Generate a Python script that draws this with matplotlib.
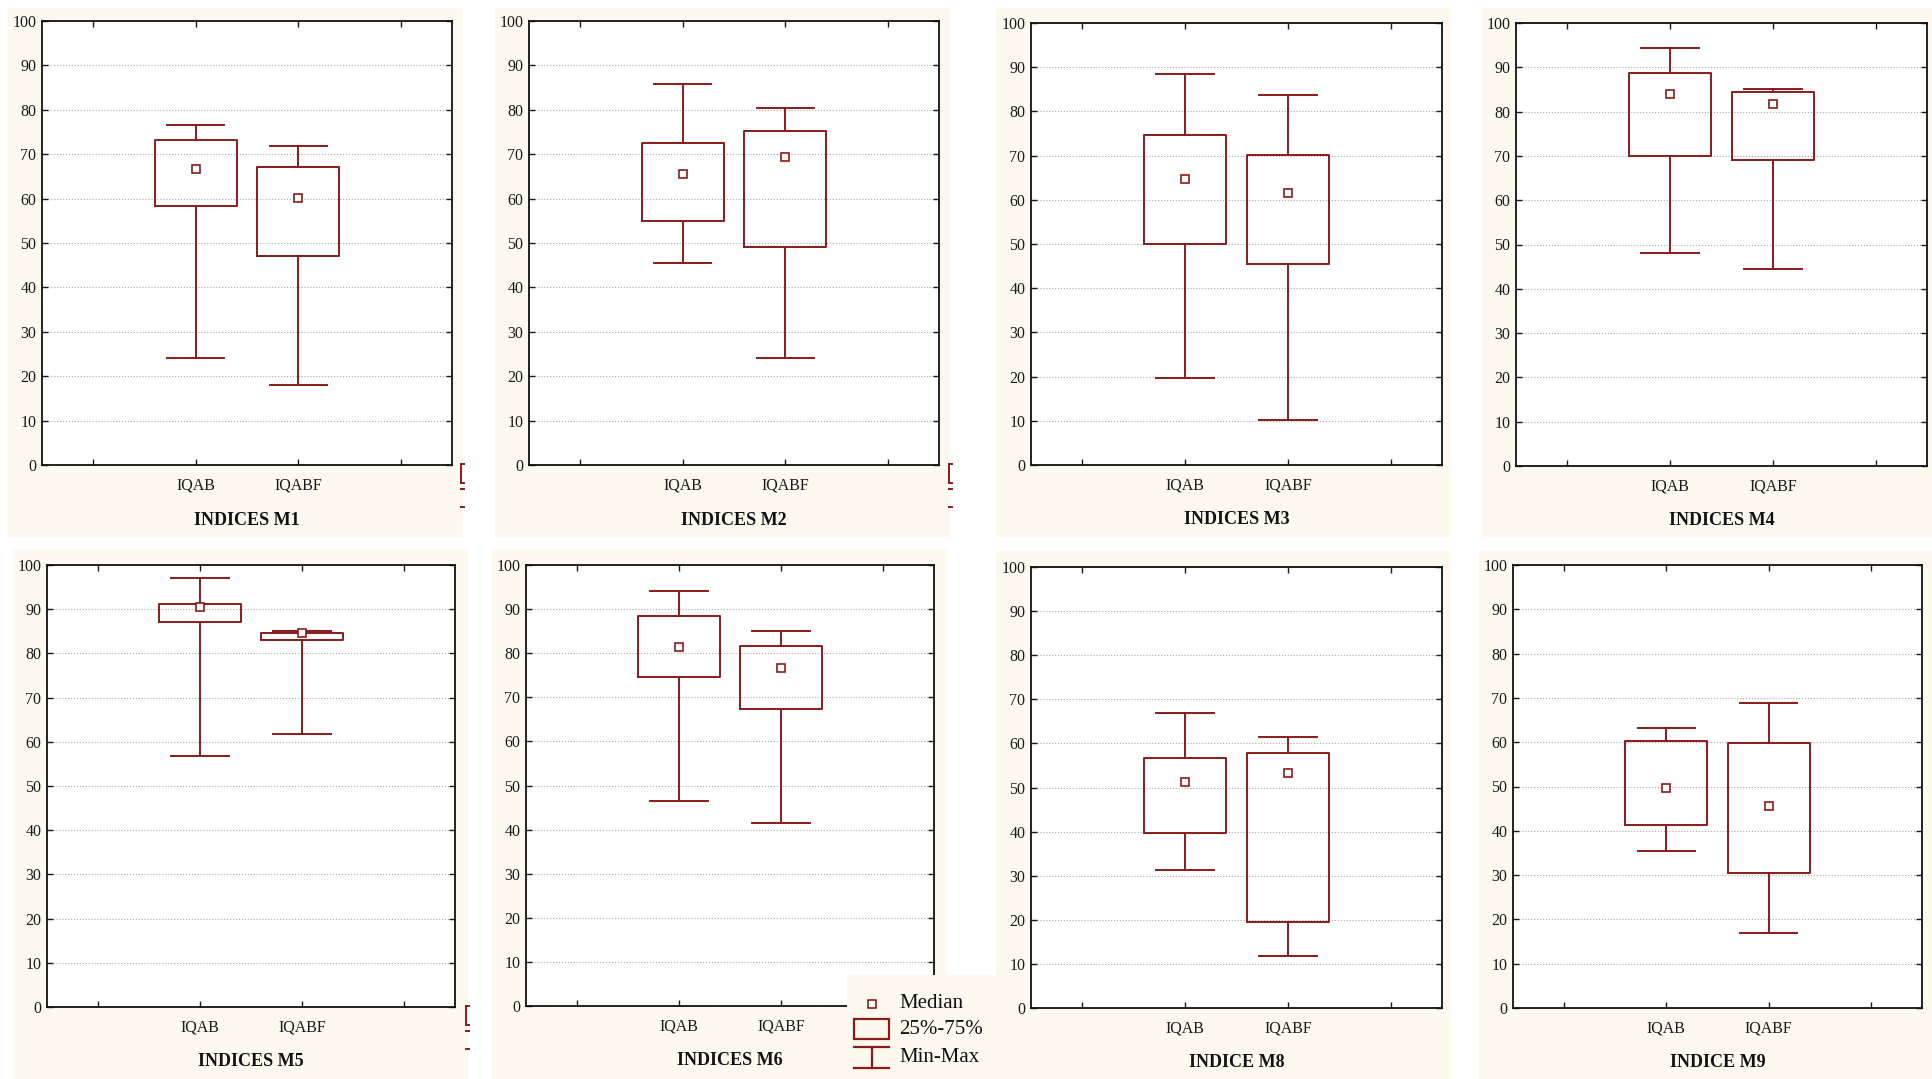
import matplotlib
matplotlib.use("Agg")
import matplotlib.pyplot as plt
from matplotlib.patches import Rectangle
from matplotlib.lines import Line2D

plt.rcParams['font.family'] = ['Liberation Serif', 'DejaVu Serif']

W, H = 1932, 1079
RED = '#8b1a1a'
CREAM = '#fdf9ee'

#======================================================================================================================
# data: min, q1, median, q3, max for IQAB / IQABF

titles = ["INDICES M1", "INDICES M2", "INDICES M3", "INDICES M4",
          "INDICES M5", "INDICES M6", "INDICE M8", "INDICE M9"]
groups = ["IQAB", "IQABF"]

iqab_min = [24.0, 45.6, 19.7, 48.1, 56.8, 46.5, 31.4, 35.4]
iqab_q1  = [58.3, 54.9, 49.9, 70.0, 87.1, 74.7, 39.7, 41.3]
iqab_med = [66.6, 65.5, 64.7, 83.9, 90.4, 81.3, 51.3, 49.6]
iqab_q3  = [73.2, 72.6, 74.7, 88.8, 91.2, 88.5, 56.7, 60.3]
iqab_max = [76.6, 85.8, 88.5, 94.3, 97.0, 94.2, 67.0, 63.3]

iqabf_min = [18.1, 24.0, 10.2, 44.4, 61.8, 41.4, 11.9, 17.0]
iqabf_q1  = [47.1, 49.1, 45.4, 69.1, 83.0, 67.3, 19.5, 30.4]
iqabf_med = [60.1, 69.3, 61.6, 81.8, 84.7, 76.7, 53.3, 45.5]
iqabf_q3  = [67.1, 75.3, 70.2, 84.4, 84.6, 81.6, 57.9, 59.9]
iqabf_max = [71.9, 80.4, 83.6, 85.1, 85.0, 85.0, 61.4, 68.8]

#======================================================================================================================
# layout in pixels: axes (x0, y0, x1, y1) and cream panel background

axes_px = [(42, 21, 452, 465), (529, 21, 939, 465), (1031, 23, 1442, 465), (1516, 23, 1927, 466),
           (47, 565, 455, 1007), (526, 565, 934, 1006), (1031, 567, 1442, 1008), (1513, 565, 1922, 1008)]
panel_px = [(8, 8, 463, 537), (495, 8, 950, 537), (996, 8, 1451, 537), (1482, 8, 1932, 537),
            (13, 550, 468, 1079), (492, 550, 947, 1079), (996, 551, 1451, 1079), (1479, 551, 1932, 1079)]

# cut-off legend leftovers at the right edge of some panels (x, top of box)
stubs_px = [(461, 464), (949, 464), (466, 1006)]


def figRect(x0, y0, x1, y1):
    return [x0 / W, 1 - y1 / H, (x1 - x0) / W, (y1 - y0) / H]


def makeStats(i):
    stats = []
    for lo, q1, med, q3, hi in [(iqab_min[i], iqab_q1[i], iqab_med[i], iqab_q3[i], iqab_max[i]),
                                (iqabf_min[i], iqabf_q1[i], iqabf_med[i], iqabf_q3[i], iqabf_max[i])]:
        stats.append(dict(whislo=lo, q1=q1, med=med, q3=q3, whishi=hi, mean=med, fliers=[]))
    return stats


def drawPanel(fig, i):
    x0, y0, x1, y1 = panel_px[i]
    fig.add_artist(Rectangle((x0 / W, 1 - y1 / H), (x1 - x0) / W, (y1 - y0) / H,
                             transform=fig.transFigure, facecolor=CREAM, edgecolor='none', zorder=-5))

    ax = fig.add_axes(figRect(*axes_px[i]))
    ax.set_facecolor('white')
    line = dict(color=RED, linewidth=1.4)
    ax.bxp(makeStats(i), positions=[1, 2], widths=0.8, capwidths=0.56, showmeans=True,
           boxprops=line, whiskerprops=line, capprops=line,
           medianprops=dict(linewidth=0),
           meanprops=dict(marker='s', markersize=5.5, markerfacecolor='white',
                          markeredgecolor=RED, markeredgewidth=1.2),
           manage_ticks=False)

    ax.set_xlim(-0.5, 3.5)
    ax.set_ylim(0, 100)
    ax.set_xticks([0, 1, 2, 3])
    ax.set_xticklabels([''] + groups + [''])
    ax.set_yticks(range(0, 101, 10))
    ax.tick_params(direction='in', length=4, width=1, top=True, right=True,
                   labelsize=11.5, colors='#1a1a1a')
    ax.tick_params(axis='x', pad=9)
    ax.tick_params(axis='y', pad=4)
    ax.yaxis.grid(True, linestyle=':', color='#a8a8a8', linewidth=0.8)
    ax.set_axisbelow(True)
    for s in ax.spines.values():
        s.set_linewidth(1.3)
        s.set_color('#111111')

    ax.text(0.5, -0.124, titles[i], transform=ax.transAxes, ha='center', va='center',
            fontsize=13, fontweight='bold', color='#111111')


def drawStubs(fig):
    for x, y in stubs_px:
        xs = [x / W, (x + 3) / W]
        fig.add_artist(Line2D([x / W, x / W], [1 - y / H, 1 - (y + 19) / H], color=RED, linewidth=1.4))
        for yy in (y, y + 19, y + 25, y + 43):
            fig.add_artist(Line2D(xs, [1 - yy / H, 1 - yy / H], color=RED, linewidth=1.4))


def drawLegend(fig):
    lx0, ly0, lx1, ly1 = 847, 975, 996, 1079
    ax = fig.add_axes(figRect(lx0, ly0, lx1, ly1), zorder=5)
    ax.set_xlim(lx0, lx1)
    ax.set_ylim(ly1, ly0)
    ax.set_facecolor(CREAM)
    ax.axis('off')
    ax.add_patch(Rectangle((lx0, ly0), lx1 - lx0, ly1 - ly0, facecolor=CREAM, edgecolor='none'))

    ax.plot([872], [1004], marker='s', markersize=6, markerfacecolor='white',
            markeredgecolor=RED, markeredgewidth=1.2)
    ax.add_patch(Rectangle((854, 1019), 35, 20, facecolor='none', edgecolor=RED, linewidth=1.6))
    ax.add_line(Line2D([854, 889], [1047, 1047], color=RED, linewidth=1.6))
    ax.add_line(Line2D([872, 872], [1047, 1068], color=RED, linewidth=1.6))
    ax.add_line(Line2D([854, 889], [1068, 1068], color=RED, linewidth=1.6))

    for txt, y in [("Median", 1004), ("25%-75%", 1029), ("Min-Max", 1057)]:
        ax.text(899, y, txt, ha='left', va='center', fontsize=15, color='#111111')


def main():
    fig = plt.figure(figsize=(W / 100, H / 100), dpi=100)
    fig.patch.set_facecolor('white')
    for i in range(len(titles)):
        drawPanel(fig, i)
    drawStubs(fig)
    drawLegend(fig)
    fig.savefig("out.png", dpi=100)

#======================================================================================================================

if __name__ == "__main__":
    main()
